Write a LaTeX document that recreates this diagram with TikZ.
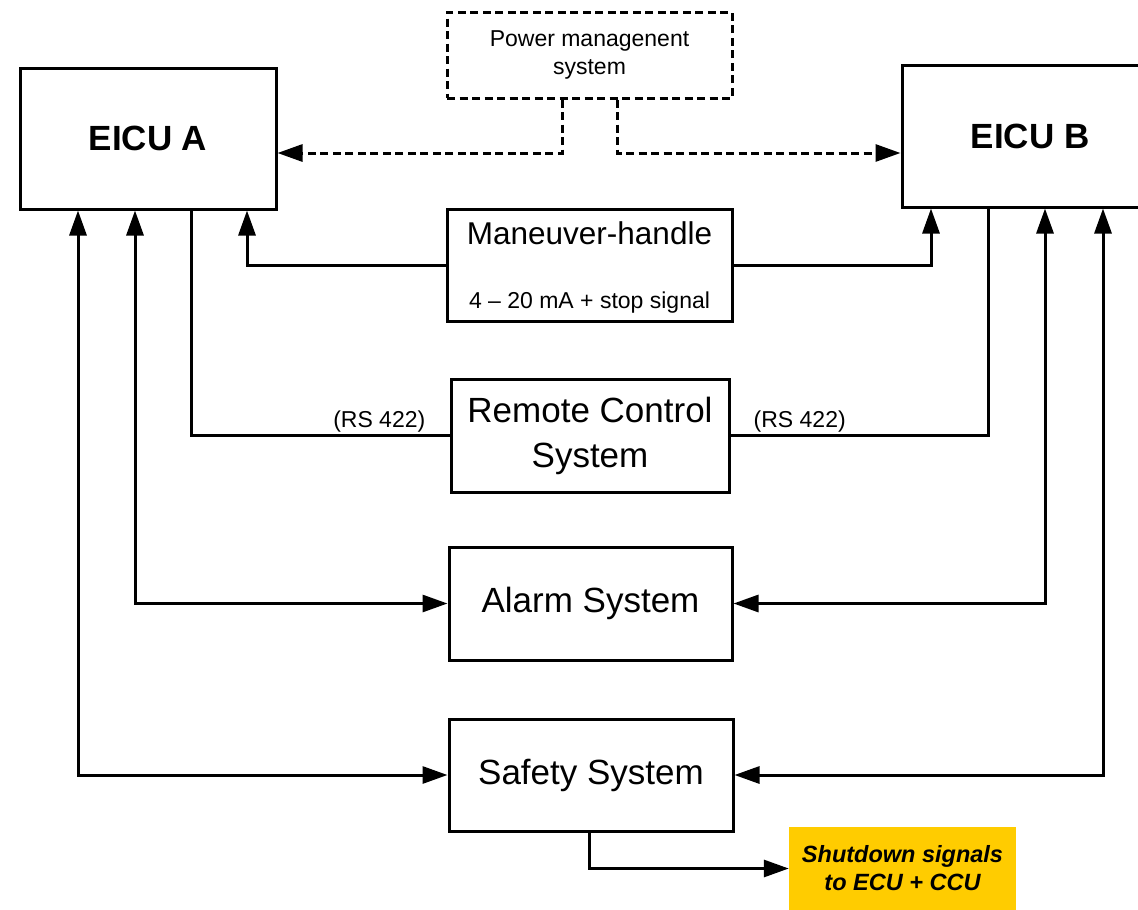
\documentclass[tikz,border=0pt]{standalone}
\usepackage{fontspec}
\setmainfont{Liberation Sans}
\usetikzlibrary{arrows.meta}
\definecolor{sdyellow}{HTML}{FFCC00}
\begin{document}
\begin{tikzpicture}[x=1pt,y=-1pt,
  box/.style={draw, line width=3pt, rectangle, inner sep=0pt, align=center},
  wire/.style={line width=3pt},
  tip/.style={-{Triangle[length=25pt,width=17pt]}},
  both/.style={{Triangle[length=25pt,width=17pt]}-{Triangle[length=25pt,width=17pt]}},
  dashy/.style={line width=3pt, dash pattern=on 8pt off 4.5pt},
  bigtxt/.style={font=\fontsize{35}{45}\selectfont},
  eicutxt/.style={font=\fontsize{35}{42}\selectfont\bfseries},
  smalltxt/.style={font=\fontsize{23}{28}\selectfont},
  plain/.style={inner sep=0pt}
]
\useasboundingbox (0,0) rectangle (1138,910);

% boxes
\node[box, eicutxt, minimum width=256pt, minimum height=141pt] (eicua) at (148,138.5) {EICU A};
\node[box, eicutxt, minimum width=256pt, minimum height=142pt] (eicub) at (1030,136) {EICU B};
\node[box, dashy, smalltxt, minimum width=285pt, minimum height=86pt] (pms) at (589.5,55) {Power managenent\\system};
\node[box, minimum width=285pt, minimum height=112pt] (man) at (589.5,265) {};
\node[plain, anchor=base, font=\fontsize{31.5}{36}\selectfont] (mant) at ([yshift=-37pt]man.north) {Maneuver-handle};
\node[plain, anchor=base, smalltxt] (mans) at ([yshift=-101pt]man.north) {4 -- 20 mA + stop signal};
\node[box, bigtxt, minimum width=278pt, minimum height=113pt] (rcs) at (590,435.5) {Remote Control\\System};
\node[box, bigtxt, minimum width=283pt, minimum height=113pt] (alarm) at (590.5,603.5) {Alarm System};
\node[box, bigtxt, minimum width=284pt, minimum height=112pt] (safety) at (591,775) {Safety System};
\node[rectangle, fill=sdyellow, inner sep=0pt, minimum width=227pt, minimum height=83pt, align=center,
      font=\fontsize{23.5}{28}\selectfont\bfseries\itshape] (shut) at (902.5,868.5) {Shutdown signals\\to ECU + CCU};

% RS 422 labels
\node[plain, smalltxt, anchor=south east] (rsl) at ([xshift=-24pt,yshift=3pt]rcs.west) {(RS 422)};
\node[plain, smalltxt, anchor=south west] (rsr) at ([xshift=23pt,yshift=3pt]rcs.east) {(RS 422)};

% power management
\draw[dashy, tip] ([xshift=-27.5pt]pms.south) |- ([yshift=-14.5pt]eicua.east);
\draw[dashy, tip] ([xshift=27.5pt]pms.south) |- ([yshift=-17pt]eicub.west);

% maneuver handle
\draw[wire, tip] (man.west) -| ([xshift=99pt]eicua.south);
\draw[wire, tip] (man.east) -| ([xshift=-99pt]eicub.south);

% remote control
\draw[wire] (rcs.west) -| ([xshift=43pt]eicua.south);
\draw[wire] (rcs.east) -| ([xshift=-42pt]eicub.south);

% alarm
\draw[wire, both] ([xshift=-13pt]eicua.south) |- (alarm.west);
\draw[wire, both] ([xshift=15pt]eicub.south) |- (alarm.east);

% safety
\draw[wire, both] ([xshift=-70pt]eicua.south) |- (safety.west);
\draw[wire, both] ([xshift=73pt]eicub.south) |- (safety.east);

% shutdown
\draw[wire, tip] ([xshift=-2pt]safety.south) |- (shut.west);
\end{tikzpicture}
\end{document}
